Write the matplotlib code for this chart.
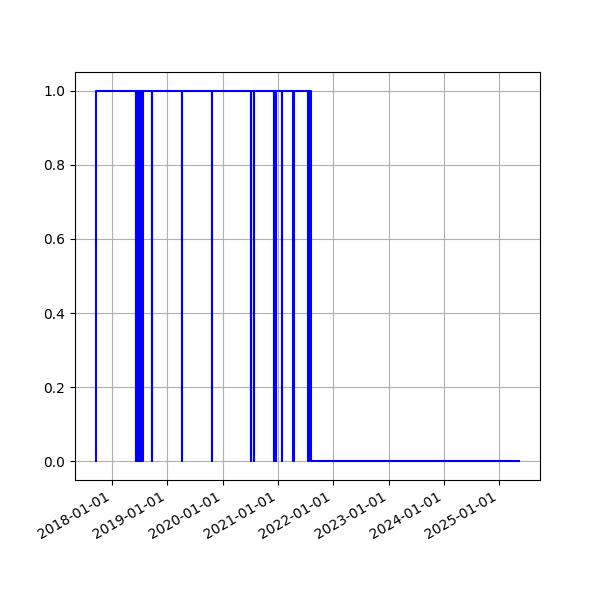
import matplotlib
matplotlib.use("Agg")
import matplotlib.pyplot as plt
import matplotlib.dates as mdates
import pandas as pd

# change points of the 0/1 status (step-post)
change_dates = [
    "2017-09-18", "2017-09-19",
    "2018-06-08", "2018-06-10",
    "2018-06-21", "2018-06-23",
    "2018-06-26", "2018-06-28",
    "2018-07-01", "2018-07-03",
    "2018-07-06", "2018-07-08",
    "2018-07-11", "2018-07-13",
    "2018-07-16", "2018-07-18",
    "2018-07-21", "2018-07-23",
    "2018-09-23", "2018-09-25",
    "2019-04-09", "2019-04-11",
    "2019-10-20", "2019-10-22",
    "2020-07-05", "2020-07-07",
    "2020-07-25", "2020-07-27",
    "2020-12-07", "2020-12-09",
    "2020-12-19", "2020-12-21",
    "2021-01-26", "2021-01-28",
    "2021-04-12", "2021-04-14",
    "2021-07-20", "2021-07-22",
    "2021-08-08",
    "2025-05-11",
]
status_values = [
    0, 1,
    0, 1,
    0, 1,
    0, 1,
    0, 1,
    0, 1,
    0, 1,
    0, 1,
    0, 1,
    0, 1,
    0, 1,
    0, 1,
    0, 1,
    0, 1,
    0, 1,
    0, 1,
    0, 1,
    0, 1,
    0, 1,
    0,
    0,
]

dates = pd.to_datetime(change_dates)

fig, ax = plt.subplots(figsize=(6, 6), dpi=100)
ax.plot(dates, status_values, color="blue", drawstyle="steps-post")
ax.grid(True)
ax.xaxis.set_major_locator(mdates.YearLocator())
ax.xaxis.set_major_formatter(mdates.DateFormatter("%Y-%m-%d"))
fig.autofmt_xdate()
fig.savefig("out.png")
